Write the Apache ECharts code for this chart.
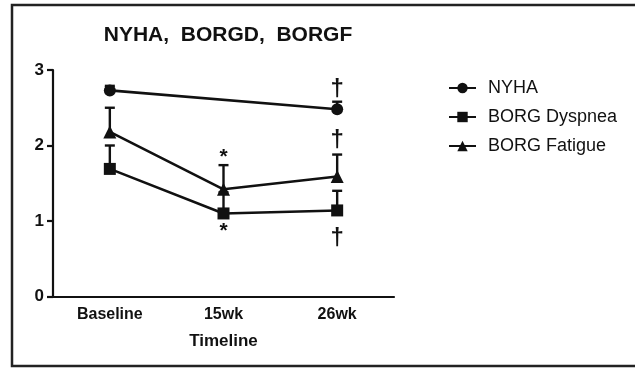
<!DOCTYPE html>
<html>
<head>
<meta charset="utf-8">
<script src="https://cdn.jsdelivr.net/npm/echarts@6/dist/echarts.min.js"></script>
<style>html,body{margin:0;padding:0;background:#fff}#c{width:635px;height:368px}</style>
</head>
<body>
<div id="c"></div>
<script>
var categories = ['Baseline', '15wk', '26wk'];
var yTicks = [0, 1, 2, 3];
var nyha = [2.73, null, 2.48];
var nyhaErrTop = [2.79, null, 2.58];
var dyspnea = [1.69, 1.10, 1.14];
var dyspneaErrTop = [2.00, 1.38, 1.40];
var fatigue = [2.18, 1.42, 1.59];
var fatigueErrTop = [2.50, 1.74, 1.88];
var stars = [['15wk', 1.90], ['15wk', 0.92]];
var daggers = [['26wk', 2.77], ['26wk', 2.09], ['26wk', 0.79]];

var FONT = '"Liberation Sans", Arial, sans-serif';
var INK = '#111';

function errData(vals, tops) {
  var out = [];
  for (var i = 0; i < vals.length; i++) {
    if (vals[i] != null && tops[i] != null) out.push([categories[i], vals[i], tops[i]]);
  }
  return out;
}

function errSeries(vals, tops) {
  return {
    type: 'custom',
    silent: true,
    z: 1,
    data: errData(vals, tops),
    renderItem: function (params, api) {
      var lo = api.coord([api.value(0), api.value(1)]);
      var hi = api.coord([api.value(0), api.value(2)]);
      var half = 5;
      return {
        type: 'group',
        children: [
          { type: 'line', shape: { x1: lo[0], y1: lo[1], x2: hi[0], y2: hi[1] }, style: { stroke: INK, lineWidth: 2.4 } },
          { type: 'line', shape: { x1: hi[0] - half, y1: hi[1], x2: hi[0] + half, y2: hi[1] }, style: { stroke: INK, lineWidth: 2.4 } }
        ]
      };
    }
  };
}

function textSeries(points, ch, size, weight, dy) {
  return {
    type: 'custom',
    silent: true,
    z: 5,
    data: points,
    renderItem: function (params, api) {
      var p = api.coord([api.value(0), api.value(1)]);
      return {
        type: 'text',
        x: p[0], y: p[1] + dy,
        style: { text: ch, fill: INK, font: weight + ' ' + size + 'px ' + FONT, textAlign: 'center', textVerticalAlign: 'middle' }
      };
    }
  };
}

var lineBase = {
  type: 'line',
  connectNulls: true,
  z: 3,
  lineStyle: { color: INK, width: 2.6 },
  itemStyle: { color: INK, borderWidth: 0 },
  emphasis: { disabled: true }
};

var chart = echarts.init(document.getElementById('c'), null, { renderer: 'canvas' });
chart.setOption({
  animation: false,
  backgroundColor: '#fff',
  textStyle: { fontFamily: FONT },
  title: {
    text: 'NYHA,  BORGD,  BORGF',
    left: 223, top: 20, textAlign: 'center',
    textStyle: { fontFamily: FONT, fontSize: 21, fontWeight: 'bold', color: INK }
  },
  graphic: [{
    type: 'rect', shape: { x: 12, y: 5, width: 640, height: 361 },
    style: { fill: 'none', stroke: '#222', lineWidth: 2.5 }, silent: true, z: -1
  }],
  legend: {
    orient: 'vertical', left: 443, top: 74, itemGap: 11,
    itemWidth: 27, itemHeight: 13,
    textStyle: { fontFamily: FONT, fontSize: 18, color: INK, padding: [0, 0, 0, 7] },
    data: ['NYHA', 'BORG Dyspnea', 'BORG Fatigue']
  },
  grid: { left: 53, top: 70, width: 341, bottom: 71.5, containLabel: false },
  xAxis: {
    type: 'category', data: categories, boundaryGap: true,
    name: 'Timeline', nameLocation: 'middle', nameGap: 36,
    nameTextStyle: { fontFamily: FONT, fontSize: 17, fontWeight: 'bold', color: INK },
    axisLine: { lineStyle: { color: INK, width: 2.2 } },
    axisTick: { alignWithLabel: true, length: 6, lineStyle: { color: INK, width: 2.2 } },
    axisLabel: { fontFamily: FONT, fontSize: 16, fontWeight: 'bold', color: INK, margin: 10 },
    splitLine: { show: false }
  },
  yAxis: {
    type: 'value', min: yTicks[0], max: yTicks[yTicks.length - 1], interval: 1,
    axisLine: { show: true, lineStyle: { color: INK, width: 2.2 } },
    axisTick: { show: true, length: 6, lineStyle: { color: INK, width: 2.2 } },
    axisLabel: { fontFamily: FONT, fontSize: 17, fontWeight: 'bold', color: INK, margin: 9 },
    splitLine: { show: false }
  },
  series: [
    errSeries(nyha, nyhaErrTop),
    errSeries(dyspnea, dyspneaErrTop),
    errSeries(fatigue, fatigueErrTop),
    Object.assign({}, lineBase, { name: 'NYHA', data: nyha, symbol: 'circle', symbolSize: 12 }),
    Object.assign({}, lineBase, { name: 'BORG Dyspnea', data: dyspnea, symbol: 'rect', symbolSize: 12 }),
    Object.assign({}, lineBase, { name: 'BORG Fatigue', data: fatigue, symbol: 'triangle', symbolSize: 13 }),
    textSeries(stars, '*', 21, 'bold', 4),
    textSeries(daggers, '\u2020', 24, 'bold', 2)
  ]
});
</script>
</body>
</html>
